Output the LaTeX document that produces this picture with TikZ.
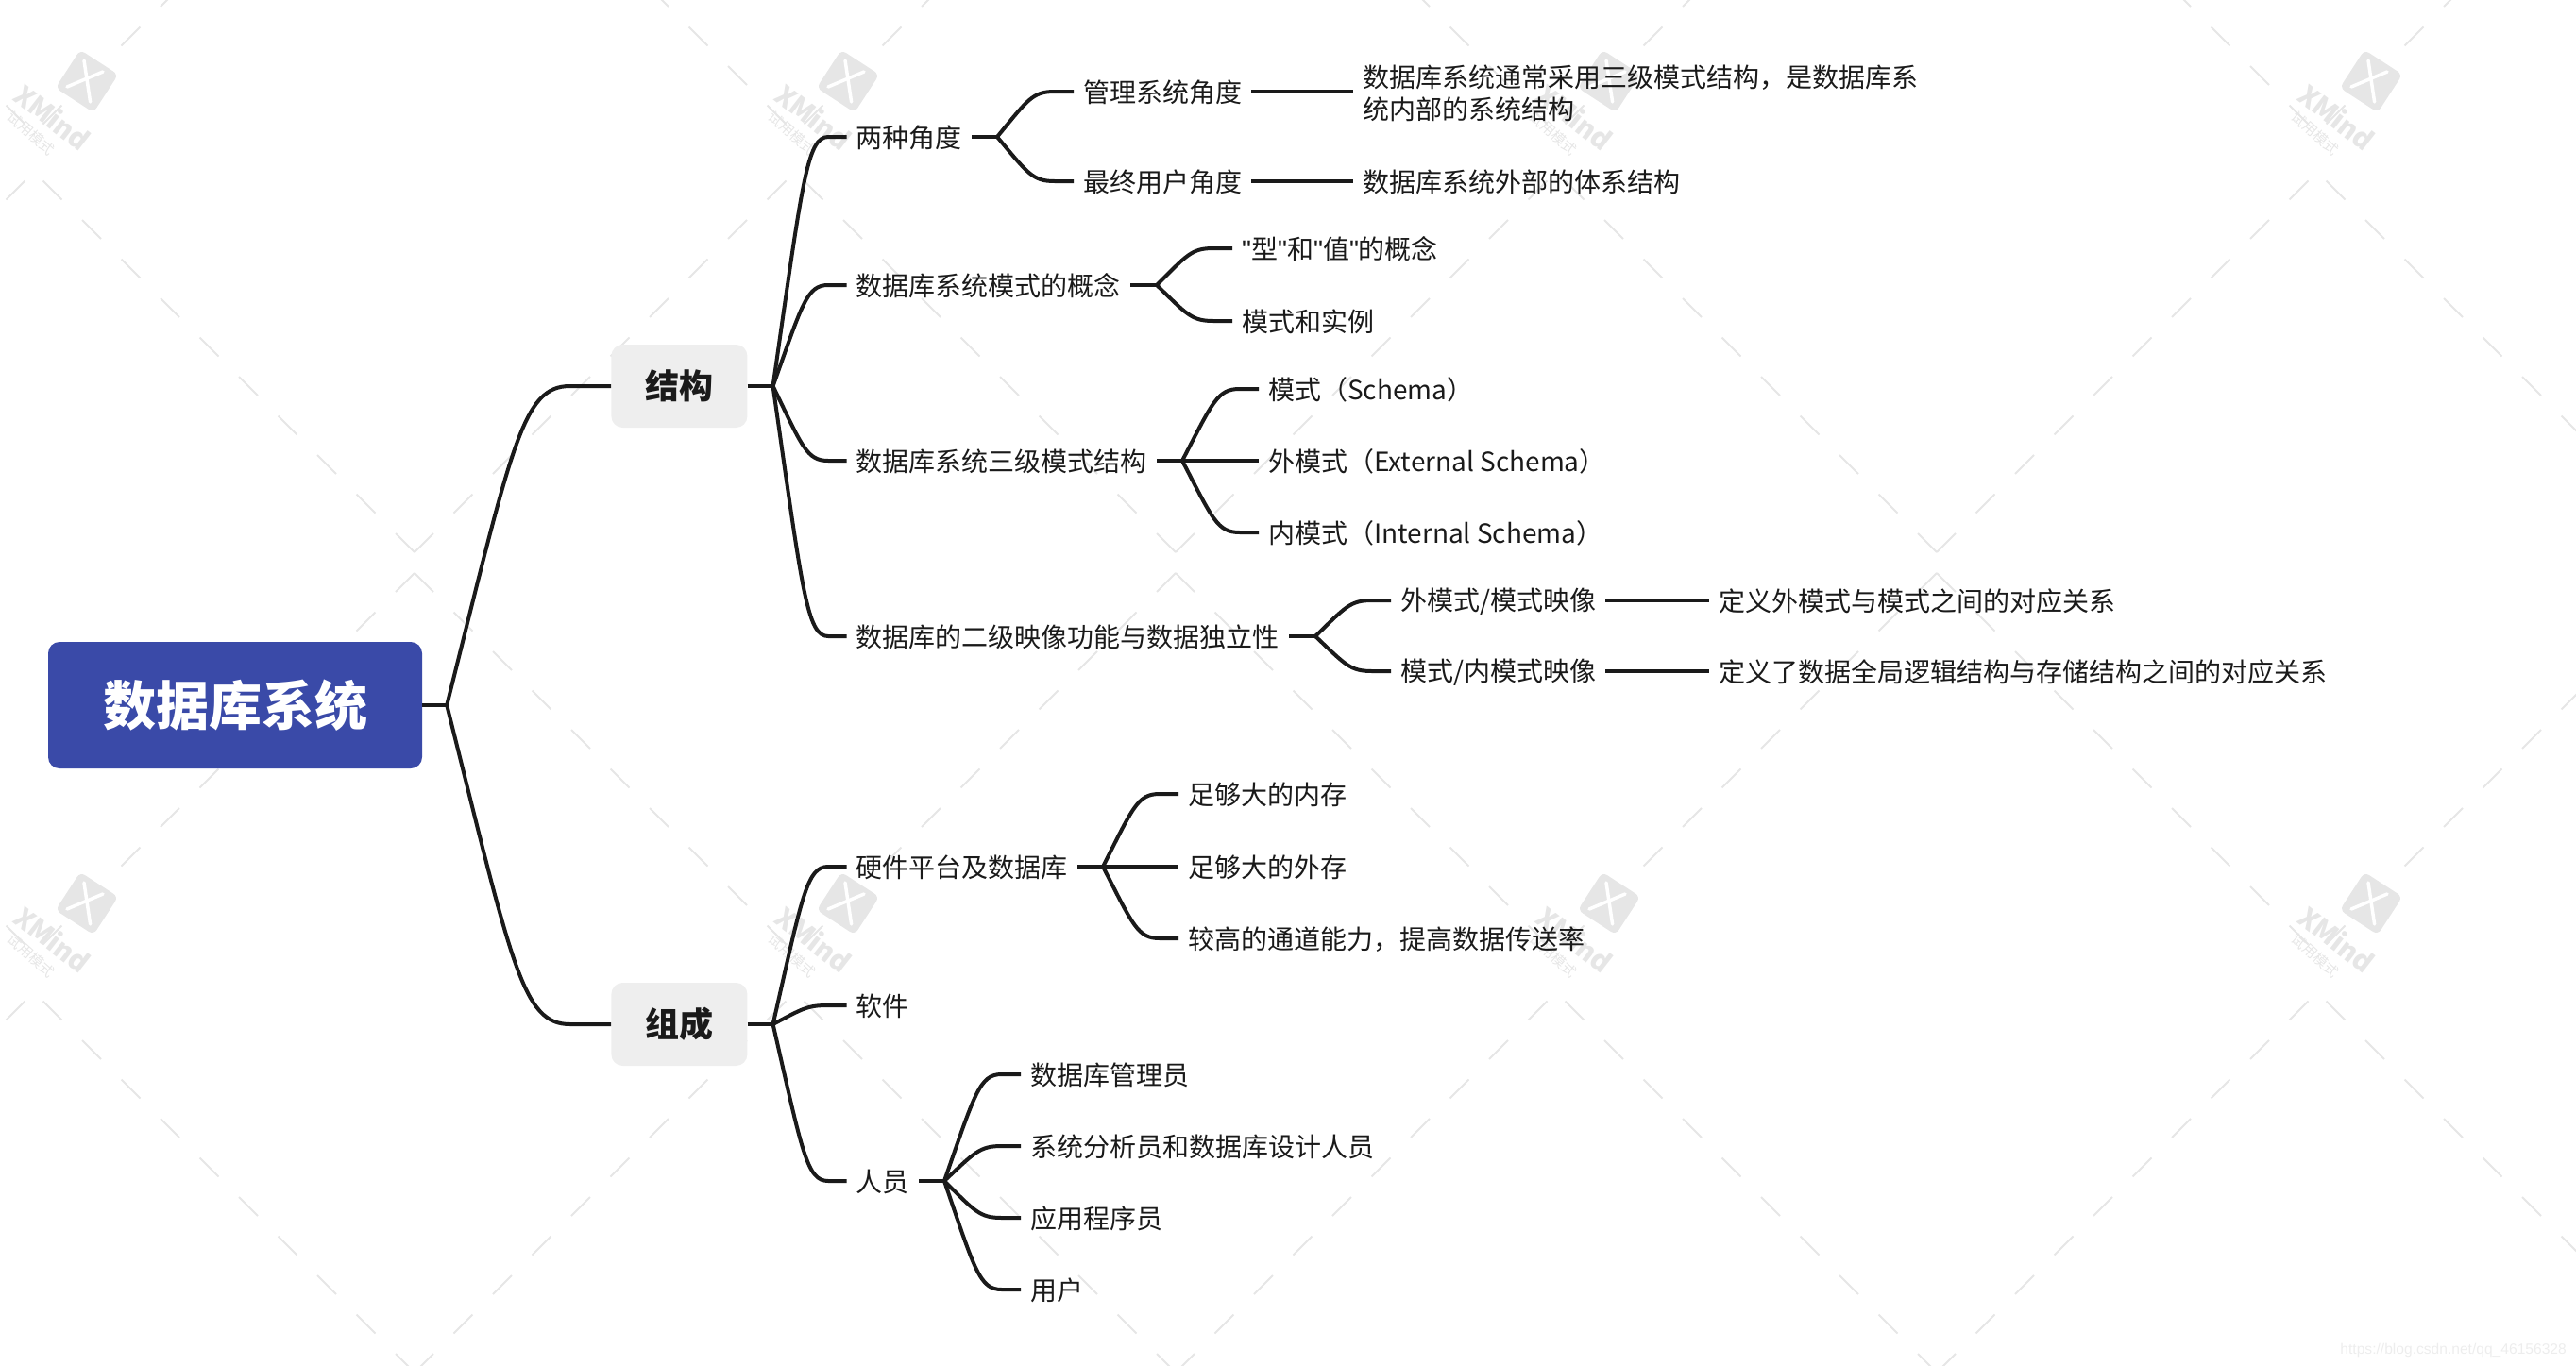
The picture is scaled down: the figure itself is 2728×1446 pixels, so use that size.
\documentclass[tikz,border=0pt]{standalone}
\usepackage{xcolor}
\usepackage{fontspec}
\setmainfont{Noto Sans CJK SC}
\newfontfamily\urlfont{Liberation Sans}
\usepackage{tikz}
\usetikzlibrary{calc, positioning}
\definecolor{rootblue}{HTML}{3A4AA8}
\definecolor{inkdark}{HTML}{1A1A1A}
\definecolor{mainfill}{HTML}{EEEEEE}
\definecolor{wmgray}{HTML}{E6E6E6}
\newcommand{\dq}{{\urlfont"}}

\begin{document}
\begin{tikzpicture}[
    x=1pt, y=-1pt,
    rootnode/.style={rectangle, rounded corners=12pt, fill=rootblue, text=white,
                     minimum width=396pt, minimum height=134pt, inner sep=0pt,
                     font=\fontsize{56}{66}\selectfont\bfseries},
    mainnode/.style={rectangle, rounded corners=12pt, fill=mainfill, text=inkdark,
                     minimum width=144pt, minimum height=88pt, inner sep=0pt,
                     font=\fontsize{36}{44}\selectfont\bfseries},
    topic/.style={rectangle, inner xsep=10pt, inner ysep=2pt, align=left, text=inkdark,
                  text height=26pt, font=\fontsize{28}{34}\selectfont},
    conn/.style={draw=inkdark, line width=4pt},
    twig/.style={conn, to path={let \p1=(\tikztostart), \p2=(\tikztotarget) in
                 .. controls ({\x1+0.4*(\x2-\x1)},{\y1+0.82*(\y2-\y1)})
                 and ({\x1+0.46*(\x2-\x1)},\y2) .. ({\x1+0.75*(\x2-\x1)},\y2)
                 -- (\tikztotarget)}},
    wmline/.style={draw=wmgray, line width=2pt},
    wmtext/.style={text=wmgray, inner sep=0pt}
]
  \useasboundingbox (0,0) rectangle (2728,1446);

  \begin{scope}
    \clip (0,0) rectangle (2728,1446);
    \foreach \cx in {-367,439,1245,2051,2857}
      \foreach \cy in {-273,596,1465}
        \foreach \i in {0,...,9} {
          \pgfmathsetmacro{\d}{41.5*\i}
          \foreach \s in {-1,1} {
            \draw[wmline] ({\cx+\s*\d},{\cy-11-\d}) -- ++({\s*20},-20);
            \draw[wmline] ({\cx+\s*\d},{\cy+11+\d}) -- ++({\s*20},20);
          }
        }
    \foreach \wx in {92,898,1704,2511}
      \foreach \wy in {86,957} {
        \begin{scope}[shift={(\wx,\wy)}]
          \node[rectangle, rounded corners=6pt, fill=wmgray, minimum size=48pt, rotate=-33] (wmbox) at (0,0) {};
          \draw[white, line width=3.5pt, line cap=round] (-3,-22) -- (3.6,22);
          \draw[white, line width=3.5pt, line cap=round] (-21,6) -- (17,-10);
          \node[wmtext, rotate=-38, font=\fontsize{29}{35}\selectfont\bfseries] (wmname) at (-36,38) {XMind};
          \node[wmtext, rotate=-42, font=\fontsize{15}{18}\selectfont] (wmhint) at (-59,55) {试用模式};
        \end{scope}
      }
  \end{scope}

  \node[rootnode] (root) at (249,747) {数据库系统};
  \node[mainnode, right=200pt of root, yshift=338pt]  (jiegou)  {结构};
  \node[mainnode, right=200pt of root, yshift=-338pt] (zucheng) {组成};

  \coordinate[right=26pt of root] (rootj);
  \draw[conn] (root) -- (rootj);
  \draw[twig] (rootj) to (jiegou.west);
  \draw[twig] (rootj) to (zucheng.west);

  \node[topic, right=105pt of jiegou, yshift=264pt]  (views)  {两种角度};
  \node[topic, right=105pt of jiegou, yshift=107pt]  (concept){数据库系统模式的概念};
  \node[topic, right=105pt of jiegou, yshift=-79pt]  (three)  {数据库系统三级模式结构};
  \node[topic, right=105pt of jiegou, yshift=-265pt] (mapping){数据库的二级映像功能与数据独立性};

  \coordinate[right=27pt of jiegou] (jiegouj);
  \draw[conn] (jiegou) -- (jiegouj);
  \foreach \kid in {views, concept, three, mapping}
    \draw[twig] (jiegouj) to (\kid.west);

  \node[topic, right=108pt of views, yshift=48pt]  (admin) {管理系统角度};
  \node[topic, right=108pt of views, yshift=-47pt] (enduser) {最终用户角度};
  \node[topic, text height=62pt, right=108pt of admin] (inner) {数据库系统通常采用三级模式结构，是数据库系\\统内部的系统结构};
  \node[topic, right=108pt of enduser] (outer) {数据库系统外部的体系结构};
  \coordinate[right=27pt of views] (viewsj);
  \draw[conn] (views) -- (viewsj);
  \foreach \kid in {admin, enduser}
    \draw[twig] (viewsj) to (\kid.west);
  \draw[conn] (admin) -- (inner);
  \draw[conn] (enduser) -- (outer);

  \node[topic, right=108pt of concept, yshift=39pt]  (typeval) {\dq 型\dq 和\dq 值\dq 的概念};
  \node[topic, right=108pt of concept, yshift=-38pt] (instance){模式和实例};
  \coordinate[right=28pt of concept] (conceptj);
  \draw[conn] (concept) -- (conceptj);
  \foreach \kid in {typeval, instance}
    \draw[twig] (conceptj) to (\kid.west);

  \node[topic, right=108pt of three, yshift=76pt]  (schema)   {模式（Schema）};
  \node[topic, right=108pt of three]               (external) {外模式（External Schema）};
  \node[topic, right=108pt of three, yshift=-76pt] (internal) {内模式（Internal Schema）};
  \coordinate[right=27pt of three] (threej);
  \draw[conn] (three) -- (threej);
  \foreach \kid in {schema, external, internal}
    \draw[twig] (threej) to (\kid.west);

  \node[topic, right=108pt of mapping, yshift=38pt]  (extmap) {外模式/模式映像};
  \node[topic, right=108pt of mapping, yshift=-37pt] (intmap) {模式/内模式映像};
  \node[topic, right=110pt of extmap] (extdef) {定义外模式与模式之间的对应关系};
  \node[topic, right=110pt of intmap] (intdef) {定义了数据全局逻辑结构与存储结构之间的对应关系};
  \coordinate[right=28pt of mapping] (mappingj);
  \draw[conn] (mapping) -- (mappingj);
  \foreach \kid in {extmap, intmap}
    \draw[twig] (mappingj) to (\kid.west);
  \draw[conn] (extmap) -- (extdef);
  \draw[conn] (intmap) -- (intdef);

  \node[topic, right=105pt of zucheng, yshift=167pt]  (hardware) {硬件平台及数据库};
  \node[topic, right=105pt of zucheng, yshift=20pt]   (software) {软件};
  \node[topic, right=105pt of zucheng, yshift=-166pt] (people)   {人员};
  \coordinate[right=27pt of zucheng] (zuchengj);
  \draw[conn] (zucheng) -- (zuchengj);
  \foreach \kid in {hardware, software, people}
    \draw[twig] (zuchengj) to (\kid.west);

  \node[topic, right=107pt of hardware, yshift=77pt]  (memory)  {足够大的内存};
  \node[topic, right=107pt of hardware]               (storage) {足够大的外存};
  \node[topic, right=107pt of hardware, yshift=-76pt] (channel) {较高的通道能力，提高数据传送率};
  \coordinate[right=27pt of hardware] (hardwarej);
  \draw[conn] (hardware) -- (hardwarej);
  \foreach \kid in {memory, storage, channel}
    \draw[twig] (hardwarej) to (\kid.west);

  \node[topic, right=108pt of people, yshift=113pt] (dba)     {数据库管理员};
  \node[topic, right=108pt of people, yshift=37pt]  (analyst) {系统分析员和数据库设计人员};
  \node[topic, right=108pt of people, yshift=-39pt] (coder)   {应用程序员};
  \node[topic, right=108pt of people, yshift=-115pt](users)   {用户};
  \coordinate[right=27pt of people] (peoplej);
  \draw[conn] (people) -- (peoplej);
  \foreach \kid in {dba, analyst, coder, users}
    \draw[twig] (peoplej) to (\kid.west);

  \node[anchor=east, inner sep=0pt, text=black!7, font=\urlfont\fontsize{15.6}{19}\selectfont] (url) at (2718,1430) {https://blog.csdn.net/qq\_46156328};
\end{tikzpicture}
\end{document}
